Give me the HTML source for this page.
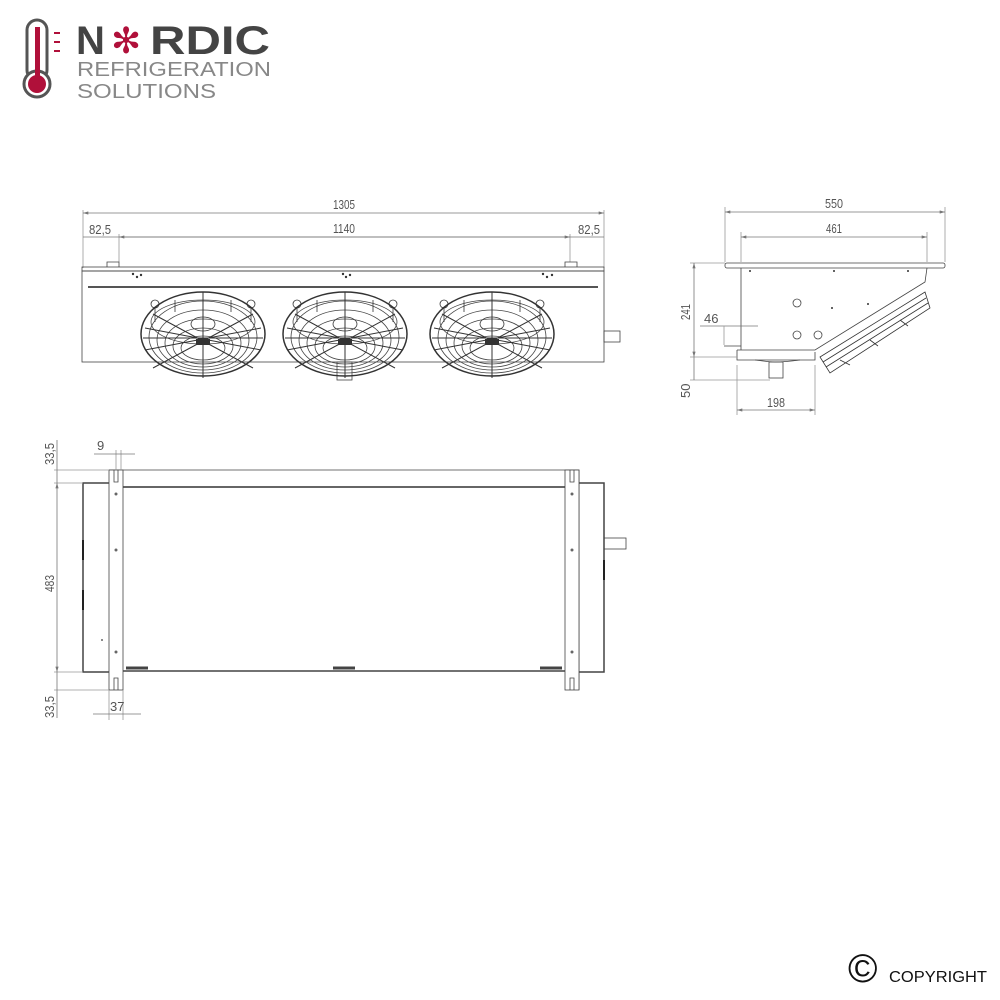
<!DOCTYPE html>
<html><head><meta charset="utf-8"><style>
body{margin:0;background:#fff;width:1000px;height:1000px;overflow:hidden;position:relative;font-family:"Liberation Sans",sans-serif}
svg{position:absolute;left:0;top:0}
</style></head><body>
<svg width="1000" height="1000" viewBox="0 0 1000 1000" xmlns="http://www.w3.org/2000/svg">
<defs>
<marker id="a" viewBox="0 0 10 6" refX="10" refY="3" markerWidth="8" markerHeight="4" orient="auto-start-reverse"><path d="M0,0L10,3L0,6z" fill="#777"/></marker>
<g id="fan">
<ellipse cx="0" cy="0" rx="62" ry="42" fill="none" stroke="#333" stroke-width="1.5"/>
<ellipse cx="0" cy="3" rx="54" ry="36" fill="none" stroke="#444"/>
<ellipse cx="0" cy="6" rx="46" ry="30" fill="none" stroke="#444"/>
<ellipse cx="0" cy="9" rx="38" ry="24" fill="none" stroke="#444"/>
<ellipse cx="0" cy="12" rx="30" ry="18" fill="none" stroke="#444"/>
<ellipse cx="0" cy="14" rx="22" ry="12" fill="none" stroke="#444"/>
<ellipse cx="0" cy="-12" rx="52" ry="22" fill="none" stroke="#444"/>
<path d="M-60,4L60,4M0,-42L0,44M-50,-20L50,34M50,-20L-50,34M-58,16L58,-6M58,16L-58,-6" stroke="#333" stroke-width="1"/>
<ellipse cx="0" cy="-10" rx="12" ry="7" fill="none" stroke="#333"/>
<rect x="-7" y="5" width="14" height="6" fill="#333"/>
<circle cx="-48" cy="-30" r="4" fill="none" stroke="#333"/><circle cx="48" cy="-30" r="4" fill="none" stroke="#333"/>
<path d="M-48,-26L-48,-12M48,-26L48,-12M-28,-34L-28,-22M28,-34L28,-22" stroke="#333"/>
</g>
</defs>
<!-- logo -->
<g>
<rect x="27" y="20" width="20" height="60" rx="10" fill="none" stroke="#555" stroke-width="3"/>
<circle cx="37" cy="84" r="13" fill="#fff" stroke="#555" stroke-width="3"/>
<rect x="35" y="27" width="5" height="55" fill="#b0103a"/>
<circle cx="37" cy="84" r="9" fill="#b0103a"/>
<path d="M54,33h6M54,42h6M54,51h6" stroke="#b0103a" stroke-width="2"/>
<text x="76" y="54" font-size="40" font-weight="bold" fill="#444">N</text>
<text x="111" y="53" font-size="36" fill="#b0103a">✻</text>
<text x="150" y="54" font-size="40" font-weight="bold" fill="#444" textLength="120" lengthAdjust="spacingAndGlyphs">RDIC</text>
<text x="77" y="76" font-size="20" fill="#888" textLength="194" lengthAdjust="spacingAndGlyphs">REFRIGERATION</text>
<text x="77" y="98" font-size="20" fill="#888" textLength="139" lengthAdjust="spacingAndGlyphs">SOLUTIONS</text>
</g>
<g font-size="13" fill="#555" stroke-width="0.8">
<!-- front view dims -->
<path d="M83,210V268M604,210V268M119,234V262M570,234V262" stroke="#999"/>
<line x1="83" y1="213" x2="604" y2="213" stroke="#777" marker-start="url(#a)" marker-end="url(#a)"/>
<line x1="83" y1="237" x2="604" y2="237" stroke="#777"/>
<line x1="119" y1="237" x2="570" y2="237" stroke="#777" marker-start="url(#a)" marker-end="url(#a)"/>
<text x="333" y="209" textLength="22" lengthAdjust="spacingAndGlyphs">1305</text><text x="333" y="233" textLength="22" lengthAdjust="spacingAndGlyphs">1140</text>
<text x="89" y="234" textLength="22" lengthAdjust="spacingAndGlyphs">82,5</text><text x="578" y="234" textLength="22" lengthAdjust="spacingAndGlyphs">82,5</text>
<!-- front body -->
<rect x="82" y="267" width="522" height="4" fill="none" stroke="#444"/>
<rect x="82" y="271" width="522" height="91" fill="none" stroke="#444"/>
<line x1="88" y1="287" x2="598" y2="287" stroke="#555" stroke-width="2"/>
<path d="M107,267V262H119V267M565,267V262H577V267" fill="none" stroke="#444"/>
<rect x="604" y="331" width="16" height="11" fill="none" stroke="#444"/>
<rect x="337" y="362" width="15" height="18" fill="none" stroke="#444"/>
<use href="#fan" x="203" y="334"/><use href="#fan" x="345" y="334"/><use href="#fan" x="492" y="334"/>
<g fill="#333"><circle cx="133" cy="274" r="1.2"/><circle cx="141" cy="275" r="1.2"/><circle cx="137" cy="277" r="1.2"/>
<circle cx="343" cy="274" r="1.2"/><circle cx="350" cy="275" r="1.2"/><circle cx="346" cy="277" r="1.2"/>
<circle cx="543" cy="274" r="1.2"/><circle cx="552" cy="275" r="1.2"/><circle cx="547" cy="277" r="1.2"/></g>
<!-- side view -->
<path d="M725,207V262M945,207V262M741,232V262M927,232V262" stroke="#999"/>
<line x1="725" y1="212" x2="945" y2="212" stroke="#777" marker-start="url(#a)" marker-end="url(#a)"/>
<line x1="741" y1="237" x2="927" y2="237" stroke="#777" marker-start="url(#a)" marker-end="url(#a)"/>
<text x="825" y="208" textLength="18" lengthAdjust="spacingAndGlyphs">550</text><text x="826" y="233" textLength="16" lengthAdjust="spacingAndGlyphs">461</text>
<rect x="725" y="263" width="220" height="5" rx="2" fill="none" stroke="#444"/>
<path d="M741,268V346L724,346M741,346V350" fill="none" stroke="#444"/>
<path d="M737,350H815L925,282L927,268" fill="none" stroke="#444"/>
<path d="M737,350V360H815L815,352" fill="none" stroke="#444"/>
<path d="M755,360Q770,362 775,362Q785,362 800,360" fill="none" stroke="#444"/>
<rect x="769" y="362" width="14" height="16" fill="none" stroke="#444"/>
<path d="M820,357L925,292L930,308L830,373Z" fill="none" stroke="#333"/>
<path d="M823,362L926,298M826,367L928,303M840,360L850,365M870,340L878,346M900,320L908,326" stroke="#333"/>
<circle cx="797" cy="303" r="4" fill="none" stroke="#444"/><circle cx="797" cy="335" r="4" fill="none" stroke="#444"/><circle cx="818" cy="335" r="4" fill="none" stroke="#444"/>
<g fill="#333"><circle cx="750" cy="271" r="1"/><circle cx="834" cy="271" r="1"/><circle cx="908" cy="271" r="1"/><circle cx="832" cy="308" r="1"/><circle cx="868" cy="304" r="1"/></g>
<path d="M690,263H725M690,357H737M690,380H770" stroke="#999"/>
<line x1="694" y1="263" x2="694" y2="357" stroke="#777" marker-start="url(#a)" marker-end="url(#a)"/>
<line x1="694" y1="357" x2="694" y2="380" stroke="#777"/>
<text transform="translate(690,320) rotate(-90)" textLength="16" lengthAdjust="spacingAndGlyphs">241</text>
<text transform="translate(690,398) rotate(-90)">50</text>
<path d="M700,326H758" stroke="#777"/><path d="M724,326V345" stroke="#999"/>
<text x="704" y="323">46</text>
<path d="M737,365V415M815,365V415" stroke="#999"/>
<line x1="737" y1="410" x2="815" y2="410" stroke="#777" marker-start="url(#a)" marker-end="url(#a)"/>
<text x="767" y="407" textLength="18" lengthAdjust="spacingAndGlyphs">198</text>
<!-- top view -->
<path d="M109,470H579V690" fill="none" stroke="#444"/>
<line x1="123" y1="487" x2="565" y2="487" stroke="#666" stroke-width="2"/>
<path d="M109,483H83V672H109M579,483H604V672H579" fill="none" stroke="#444" stroke-width="1.5"/>
<line x1="123" y1="671" x2="565" y2="671" stroke="#444" stroke-width="1.5"/>
<rect x="109" y="470" width="14" height="220" fill="#fff" stroke="#444"/>
<rect x="565" y="470" width="14" height="220" fill="#fff" stroke="#444"/>
<path d="M114,470V482H118V470M114,690V678H118V690M570,470V482H574V470M570,690V678H574V690" fill="none" stroke="#444"/>
<rect x="604" y="538" width="22" height="11" fill="none" stroke="#444"/>
<g fill="#666"><circle cx="116" cy="494" r="1.5"/><circle cx="116" cy="550" r="1.5"/><circle cx="116" cy="652" r="1.5"/>
<circle cx="572" cy="494" r="1.5"/><circle cx="572" cy="550" r="1.5"/><circle cx="572" cy="652" r="1.5"/><circle cx="102" cy="640" r="1"/></g>
<path d="M126,668h22M333,668h22M540,668h22" stroke="#444" stroke-width="3"/>
<path d="M83,540V560M83,590V610M604,560V580" stroke="#222" stroke-width="2"/>
<path d="M54,470H109M54,483H83M54,672H83M54,690H109" stroke="#999"/>
<line x1="57" y1="483" x2="57" y2="672" stroke="#777" marker-start="url(#a)" marker-end="url(#a)"/>
<line x1="57" y1="440" x2="57" y2="483" stroke="#777"/><line x1="57" y1="672" x2="57" y2="718" stroke="#777"/>
<text transform="translate(54,465) rotate(-90)" textLength="22" lengthAdjust="spacingAndGlyphs">33,5</text>
<text transform="translate(54,592) rotate(-90)" textLength="17" lengthAdjust="spacingAndGlyphs">483</text>
<text transform="translate(54,718) rotate(-90)" textLength="22" lengthAdjust="spacingAndGlyphs">33,5</text>
<path d="M116,450V470M121,450V470M109,690V720M123,690V720" stroke="#999"/>
<line x1="94" y1="454" x2="135" y2="454" stroke="#777"/>
<text x="97" y="450">9</text>
<line x1="93" y1="714" x2="141" y2="714" stroke="#777"/>
<text x="110" y="711">37</text>
</g>
<text x="848" y="982" font-size="40" fill="#111">©</text>
<text x="889" y="982" font-size="16" fill="#111" textLength="98" lengthAdjust="spacingAndGlyphs">COPYRIGHT</text>
</svg>
</body></html>
